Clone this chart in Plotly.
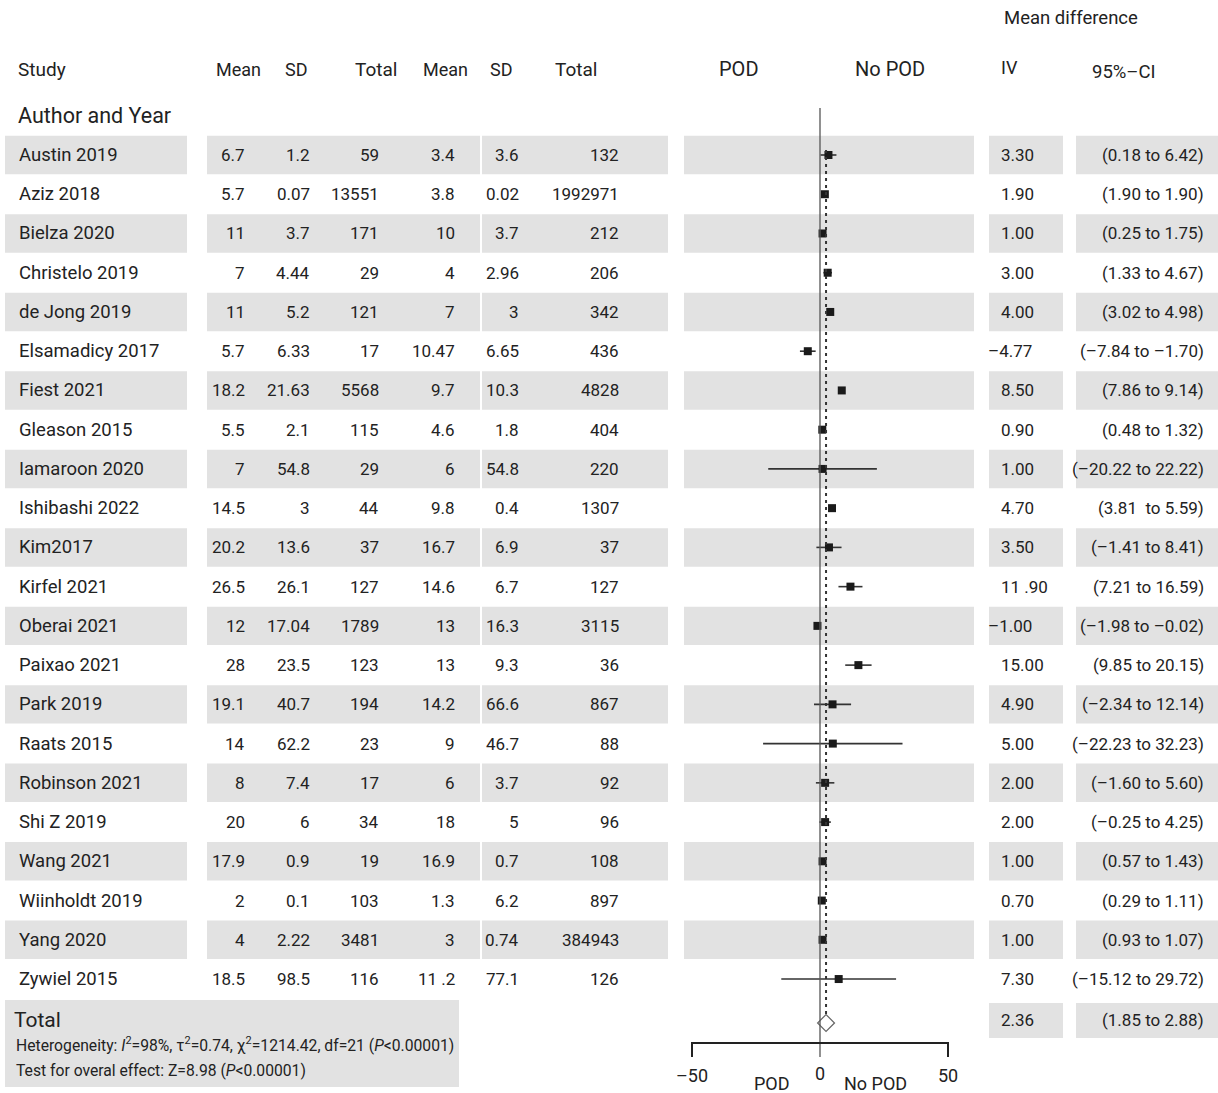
import plotly.graph_objects as go

# ---------------- data ----------------
studies = ["Austin 2019", "Aziz 2018", "Bielza 2020", "Christelo 2019", "de Jong 2019",
           "Elsamadicy 2017", "Fiest 2021", "Gleason 2015", "Iamaroon 2020", "Ishibashi 2022",
           "Kim2017", "Kirfel 2021", "Oberai 2021", "Paixao 2021", "Park 2019", "Raats 2015",
           "Robinson 2021", "Shi Z 2019", "Wang 2021", "Wiinholdt 2019", "Yang 2020", "Zywiel 2015"]
pod_mean = ["6.7", "5.7", "11", "7", "11", "5.7", "18.2", "5.5", "7", "14.5", "20.2", "26.5",
            "12", "28", "19.1", "14", "8", "20", "17.9", "2", "4", "18.5"]
pod_sd = ["1.2", "0.07", "3.7", "4.44", "5.2", "6.33", "21.63", "2.1", "54.8", "3", "13.6", "26.1",
          "17.04", "23.5", "40.7", "62.2", "7.4", "6", "0.9", "0.1", "2.22", "98.5"]
pod_total = ["59", "13551", "171", "29", "121", "17", "5568", "115", "29", "44", "37", "127",
             "1789", "123", "194", "23", "17", "34", "19", "103", "3481", "116"]
nopod_mean = ["3.4", "3.8", "10", "4", "7", "10.47", "9.7", "4.6", "6", "9.8", "16.7", "14.6",
              "13", "13", "14.2", "9", "6", "18", "16.9", "1.3", "3", "11 .2"]
nopod_sd = ["3.6", "0.02", "3.7", "2.96", "3", "6.65", "10.3", "1.8", "54.8", "0.4", "6.9", "6.7",
            "16.3", "9.3", "66.6", "46.7", "3.7", "5", "0.7", "6.2", "0.74", "77.1"]
nopod_total = ["132", "1992971", "212", "206", "342", "436", "4828", "404", "220", "1307", "37",
               "127", "3115", "36", "867", "88", "92", "96", "108", "897", "384943", "126"]
md = [3.30, 1.90, 1.00, 3.00, 4.00, -4.77, 8.50, 0.90, 1.00, 4.70, 3.50, 11.90,
      -1.00, 15.00, 4.90, 5.00, 2.00, 2.00, 1.00, 0.70, 1.00, 7.30]
ci_low = [0.18, 1.90, 0.25, 1.33, 3.02, -7.84, 7.86, 0.48, -20.22, 3.81, -1.41, 7.21,
          -1.98, 9.85, -2.34, -22.23, -1.60, -0.25, 0.57, 0.29, 0.93, -15.12]
ci_high = [6.42, 1.90, 1.75, 4.67, 4.98, -1.70, 9.14, 1.32, 22.22, 5.59, 8.41, 16.59,
           -0.02, 20.15, 12.14, 32.23, 5.60, 4.25, 1.43, 1.11, 1.07, 29.72]
md_text = ["3.30", "1.90", "1.00", "3.00", "4.00", "–4.77", "8.50", "0.90", "1.00", "4.70",
           "3.50", "11 .90", "–1.00", "15.00", "4.90", "5.00", "2.00", "2.00", "1.00", "0.70",
           "1.00", "7.30"]
ci_text = ["(0.18 to 6.42)", "(1.90 to 1.90)", "(0.25 to 1.75)", "(1.33 to 4.67)",
           "(3.02 to 4.98)", "(–7.84 to –1.70)", "(7.86 to 9.14)", "(0.48 to 1.32)",
           "(–20.22 to 22.22)", "(3.81  to 5.59)", "(–1.41 to 8.41)", "(7.21 to 16.59)",
           "(–1.98 to –0.02)", "(9.85 to 20.15)", "(–2.34 to 12.14)", "(–22.23 to 32.23)",
           "(–1.60 to 5.60)", "(–0.25 to 4.25)", "(0.57 to 1.43)", "(0.29 to 1.11)",
           "(0.93 to 1.07)", "(–15.12 to 29.72)"]
total_md = 2.36
total_md_text = "2.36"
total_ci_text = "(1.85 to 2.88)"
axis_ticks = [-50, 0, 50]
axis_tick_labels = ["–50", "0", "50"]
heterogeneity = ("Heterogeneity: <i>I</i><sup>2</sup>=98%, τ<sup>2</sup>=0.74, "
                 "χ<sup>2</sup>=1214.42, df=21 (<i>P</i>&lt;0.00001)")
overall = "Test for overal effect: Z=8.98 (<i>P</i>&lt;0.00001)"

# ---------------- layout helpers ----------------
W, H = 1218, 1093
ROW0, ROWH = 155.0, 39.24


def R(px):
    """pixel y -> row units"""
    return (px - ROW0) / ROWH


FONT = "Roboto"
TXT = "#222222"
SHADE = "#e2e2e2"
n = len(studies)
TOTAL_ROW = R(1020)

fig = go.Figure()

# forest: CI lines + squares
fig.add_trace(go.Scatter(
    x=md, y=list(range(n)), mode="markers", xaxis="x2", yaxis="y",
    marker=dict(symbol="square", size=8, color="#1a1a1a"),
    error_x=dict(type="data", symmetric=False,
                 array=[h - m for h, m in zip(ci_high, md)],
                 arrayminus=[m - l for m, l in zip(md, ci_low)],
                 color="#333333", thickness=1.6, width=0),
    showlegend=False, hoverinfo="skip"))

# total diamond
fig.add_trace(go.Scatter(
    x=[total_md], y=[R(1023)], mode="markers", xaxis="x2", yaxis="y",
    marker=dict(symbol="diamond-open", size=13, color="#666666", line=dict(width=1.2)),
    showlegend=False, hoverinfo="skip"))

shapes = []
# row shading
boxes = [(5, 187), (207, 480), (482, 668), (684, 974), (989, 1063), (1076, 1218)]
for i in range(0, n, 2):
    for x0, x1 in boxes:
        shapes.append(dict(type="rect", xref="x", yref="y", x0=x0, x1=x1,
                           y0=i - 0.49, y1=i + 0.49, fillcolor=SHADE,
                           line=dict(width=0), layer="below"))
# total boxes
shapes.append(dict(type="rect", xref="x", yref="y", x0=5, x1=459, y0=R(1000), y1=R(1087),
                   fillcolor=SHADE, line=dict(width=0), layer="below"))
for x0, x1 in [(989, 1063), (1076, 1218)]:
    shapes.append(dict(type="rect", xref="x", yref="y", x0=x0, x1=x1, y0=R(1003), y1=R(1038),
                       fillcolor=SHADE, line=dict(width=0), layer="below"))

# zero line
shapes.append(dict(type="line", xref="x2", yref="y", x0=0, x1=0, y0=R(108), y1=R(1057),
                   line=dict(color="#555555", width=1.3)))
# dotted overall line
shapes.append(dict(type="line", xref="x2", yref="y", x0=total_md, x1=total_md,
                   y0=R(150), y1=R(1014), line=dict(color="#333333", width=2, dash="3px,4px")))
# axis bracket
shapes.append(dict(type="line", xref="x2", yref="y", x0=axis_ticks[0], x1=axis_ticks[-1],
                   y0=R(1043), y1=R(1043), line=dict(color="#222222", width=2)))
for t in (axis_ticks[0], axis_ticks[-1]):
    shapes.append(dict(type="line", xref="x2", yref="y", x0=t, x1=t, y0=R(1042), y1=R(1057),
                       line=dict(color="#222222", width=2)))

ann = []


def txt(x, y, s, size=17, anchor="left", xref="x", color=TXT):
    ann.append(dict(x=x, y=y, xref=xref, yref="y", text=s, showarrow=False,
                    xanchor=anchor, yanchor="middle", borderpad=0, borderwidth=0,
                    font=dict(family=FONT, size=size, color=color)))


# headers
txt(1071, R(18), "Mean difference", 18.5, "center")
hy = R(69)
txt(18, hy, "Study", 19)
for cx, s, sz in [(238, "Mean", 18), (296, "SD", 18), (376, "Total", 19), (445, "Mean", 18),
                  (501, "SD", 18), (576, "Total", 19), (739, "POD", 20), (890, "No POD", 20)]:
    txt(cx, hy, s, sz, "center")
txt(1001, R(67), "IV", 18)
txt(1124, R(72), "95%–CI", 18.5, "center")
txt(18, R(115), "Author and Year", 21.5)

# rows
for i in range(n):
    txt(19, i, studies[i], 18.5)
    txt(245, i, pod_mean[i], anchor="right")
    txt(310, i, pod_sd[i], anchor="right")
    txt(379, i, pod_total[i], anchor="right")
    txt(455, i, nopod_mean[i], anchor="right")
    txt(519, i, nopod_sd[i], anchor="right")
    txt(619, i, nopod_total[i], anchor="right")
    txt(988 if md_text[i].startswith("–") else 1001, i, md_text[i])
    txt(1204, i, ci_text[i], anchor="right")

# total
txt(14, TOTAL_ROW, "Total", 21)
txt(16, R(1044), heterogeneity, 15.7)
txt(16, R(1070), overall, 15.7)
txt(1001, TOTAL_ROW, total_md_text)
txt(1204, TOTAL_ROW, total_ci_text, anchor="right")

# axis labels
for t, s in zip(axis_ticks, axis_tick_labels):
    txt(t, R(1073) if t == 0 else R(1075), s, 18, "center", xref="x2")
txt(772, R(1083), "POD", 18, "center")
txt(875, R(1083), "No POD", 18, "center")

fig.update_layout(
    width=W, height=H, margin=dict(l=0, r=0, t=0, b=0),
    paper_bgcolor="white", plot_bgcolor="rgba(0,0,0,0)",
    xaxis=dict(range=[0, W], domain=[0, 1], visible=False, fixedrange=True),
    yaxis=dict(range=[R(H), R(0)], domain=[0, 1], visible=False, fixedrange=True),
    xaxis2=dict(range=[(680 - 820) / 2.56, (960 - 820) / 2.56], domain=[680 / W, 960 / W],
                anchor="y", visible=False, fixedrange=True),
    shapes=shapes, annotations=ann, showlegend=False,
)

fig.write_html("out.html", config={"displayModeBar": False},
               post_script="document.body.style.margin='0';"
                           "document.body.style.overflow='hidden';")
